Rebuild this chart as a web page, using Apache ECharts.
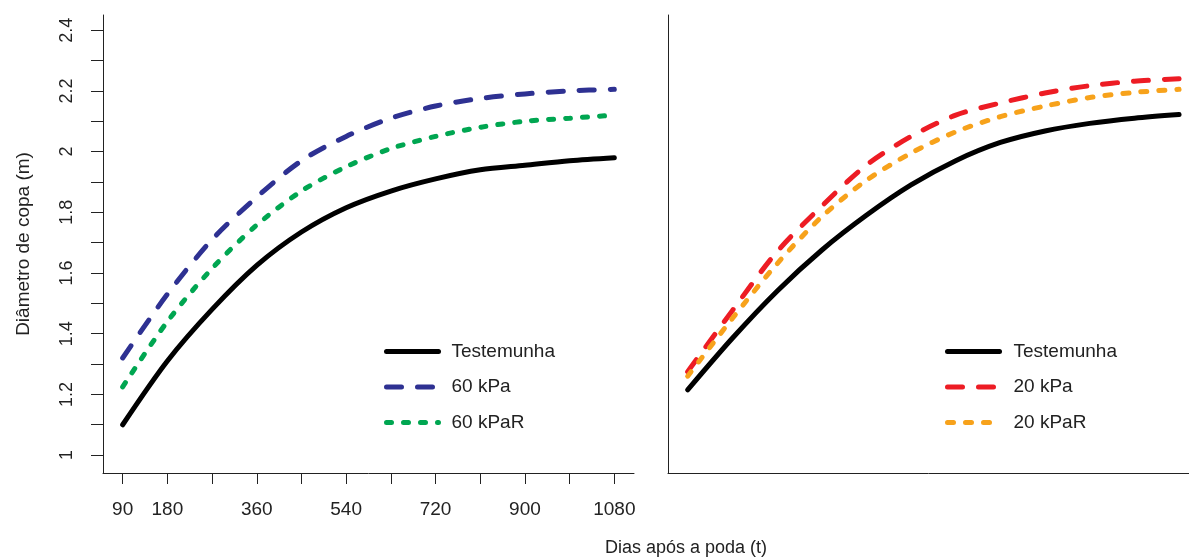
<!DOCTYPE html>
<html>
<head>
<meta charset="utf-8">
<script src="https://cdn.jsdelivr.net/npm/echarts@6/dist/echarts.min.js"></script>
<style>
  html, body { margin: 0; padding: 0; background: #fff; }
  #chart { width: 1189px; height: 558px; }
</style>
</head>
<body>
<div id="chart"></div>
<script>
// dias após a poda
const days = [90, 180, 270, 360, 450, 540, 630, 720, 810, 900, 990, 1080]

// painel esquerdo
const left_testemunha = [1.10, 1.31, 1.48, 1.625, 1.735, 1.815, 1.87, 1.91, 1.94, 1.955, 1.97, 1.98]
const left_60kPa = [1.32, 1.53, 1.71, 1.85, 1.97, 2.05, 2.11, 2.15, 2.175, 2.19, 2.20, 2.205]
const left_60kPaR = [1.225, 1.44, 1.615, 1.758, 1.87, 1.95, 2.01, 2.05, 2.08, 2.10, 2.11, 2.12]

// painel direito
const right_testemunha = [1.215, 1.385, 1.54, 1.675, 1.79, 1.89, 1.97, 2.03, 2.068, 2.093, 2.11, 2.122]
const right_20kPa = [1.275, 1.476, 1.67, 1.82, 1.955, 2.05, 2.12, 2.16, 2.193, 2.217, 2.232, 2.24]
const right_20kPaR = [1.26, 1.45, 1.63, 1.785, 1.905, 1.995, 2.065, 2.115, 2.15, 2.178, 2.195, 2.205]

// eixos
const yTicks = [1.0, 1.1, 1.2, 1.3, 1.4, 1.5, 1.6, 1.7, 1.8, 1.9, 2.0, 2.1, 2.2, 2.3, 2.4]
const yLabels = [1.0, 1.2, 1.4, 1.6, 1.8, 2.0, 2.2, 2.4]
const xTicks = [90, 180, 270, 360, 450, 540, 630, 720, 810, 900, 990, 1080]
const xLabels = [90, 180, 360, 540, 720, 900, 1080]

const font = 'Liberation Sans, Arial, sans-serif'
const pairs = vals => days.map((d, i) => [d, vals[i]])

function curve(name, vals, color, dash, axis) {
	return {
		name: name,
		type: 'line',
		xAxisIndex: axis,
		yAxisIndex: axis,
		symbol: 'none',
		smooth: 0.3,
		lineStyle: { color: color, width: 5, type: dash, cap: 'round' },
		itemStyle: { color: color },
		data: pairs(vals)
	}
}

function legendAt(names, left, gap) {
	return {
		data: names,
		orient: 'vertical',
		left: left,
		top: 342,
		padding: 0,
		itemWidth: 52,
		itemHeight: 14,
		itemGap: 16.5,
		itemStyle: { opacity: 0, borderWidth: 0 },
		lineStyle: { width: 'inherit', type: 'inherit', cap: 'inherit', opacity: 1 },
		textStyle: { fontSize: 19, color: '#222', fontFamily: font, padding: [0, 0, 0, gap] }
	}
}

const axisLine = { show: true, onZero: false, lineStyle: { color: '#222', width: 1 } }

const myChart = echarts.init(document.getElementById('chart'))
const option = {
	animation: false,
	backgroundColor: '#fff',
	textStyle: { fontFamily: font },
	title: {
		text: 'Dias após a poda (t)',
		left: 686,
		top: 539,
		textAlign: 'center',
		padding: 0,
		textStyle: { fontFamily: font, fontSize: 18, fontWeight: 'normal', color: '#222' }
	},
	grid: [
		{ left: 103, right: 555, top: 15, bottom: 85 },
		{ left: 668, right: 0, top: 15, bottom: 85 }
	],
	xAxis: [
		{
			type: 'value',
			gridIndex: 0,
			min: 50.4,
			max: 1119.6,
			splitLine: { show: false },
			axisLine: axisLine,
			axisTick: { show: true, length: 11, customValues: xTicks, lineStyle: { color: '#222' } },
			axisLabel: {
				customValues: xLabels,
				margin: 27,
				fontSize: 19,
				color: '#222',
				fontFamily: font,
				formatter: v => String(v)
			}
		},
		{
			type: 'value',
			gridIndex: 1,
			min: 50.4,
			max: 1100,
			splitLine: { show: false },
			axisLine: axisLine,
			axisTick: { show: false },
			axisLabel: { show: false }
		}
	],
	yAxis: [
		{
			type: 'value',
			gridIndex: 0,
			min: 0.941,
			max: 2.45,
			name: 'Diâmetro de copa (m)',
			nameLocation: 'middle',
			nameGap: 70,
			nameTextStyle: { fontSize: 19, color: '#222', fontFamily: font },
			splitLine: { show: false },
			axisLine: axisLine,
			axisTick: { show: true, length: 12, customValues: yTicks, lineStyle: { color: '#222' } },
			axisLabel: {
				customValues: yLabels,
				rotate: 90,
				margin: 27,
				fontSize: 18,
				color: '#222',
				fontFamily: font,
				formatter: v => String(Math.round(v * 10) / 10)
			}
		},
		{
			type: 'value',
			gridIndex: 1,
			min: 0.941,
			max: 2.45,
			splitLine: { show: false },
			axisLine: axisLine,
			axisTick: { show: false },
			axisLabel: { show: false }
		}
	],
	legend: [
		legendAt(['Testemunha', '60 kPa', '60 kPaR'], 384, 8),
		legendAt(['Testemunha ', '20 kPa', '20 kPaR'], 945, 9)
	],
	series: [
		curve('Testemunha', left_testemunha, '#000000', 'solid', 0),
		curve('60 kPa', left_60kPa, '#2E3192', [15, 16], 0),
		curve('60 kPaR', left_60kPaR, '#00A651', [5, 12], 0),
		curve('Testemunha ', right_testemunha, '#000000', 'solid', 1),
		curve('20 kPa', right_20kPa, '#ED1C24', [15, 16], 1),
		curve('20 kPaR', right_20kPaR, '#F7A21B', [6, 12], 1)
	]
}
myChart.setOption(option)
window.onresize = () => {
	myChart.resize()
}
</script>
</body>
</html>
